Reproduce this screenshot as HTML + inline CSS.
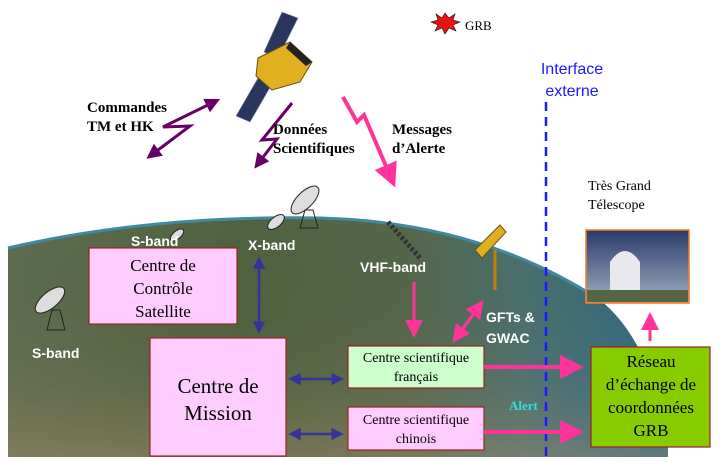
<!DOCTYPE html>
<html><head><meta charset="utf-8"><style>
html,body{margin:0;padding:0;background:#fff;width:720px;height:463px;overflow:hidden}
svg{display:block}
.s{font-family:"Liberation Serif",serif}
.a{font-family:"Liberation Sans",sans-serif}
</style></head><body>
<svg width="720" height="463" viewBox="0 0 720 463" xmlns="http://www.w3.org/2000/svg">
<defs>
<linearGradient id="earth" x1="0" y1="0" x2="1" y2="0">
<stop offset="0" stop-color="#5f6e50"/><stop offset="0.35" stop-color="#50633f"/>
<stop offset="0.6" stop-color="#56684a"/><stop offset="0.78" stop-color="#4a7270"/>
<stop offset="1" stop-color="#2a6a88"/></linearGradient>
<linearGradient id="earthv" x1="0" y1="0" x2="0" y2="1">
<stop offset="0" stop-color="#000" stop-opacity="0"/><stop offset="0.7" stop-color="#a08060" stop-opacity="0.12"/>
<stop offset="1" stop-color="#b09070" stop-opacity="0.4"/></linearGradient>
<linearGradient id="sky" x1="0" y1="0" x2="0" y2="1"><stop offset="0" stop-color="#2a3a6a"/><stop offset="1" stop-color="#a0b0c0"/></linearGradient>
<marker id="pk" markerWidth="6" markerHeight="6" refX="4" refY="3" orient="auto" markerUnits="strokeWidth"><path d="M0,0L6,3L0,6z" fill="#ff3399"/></marker>
<marker id="bl" markerWidth="5" markerHeight="5" refX="3.5" refY="2.5" orient="auto-start-reverse" markerUnits="strokeWidth"><path d="M0,0L5,2.5L0,5z" fill="#333399"/></marker>
<marker id="pu" markerWidth="5" markerHeight="5" refX="3.5" refY="2.5" orient="auto-start-reverse" markerUnits="strokeWidth"><path d="M0,0L5,2.5L0,5z" fill="#660066"/></marker>
</defs>
<!-- earth -->
<path d="M8,248 Q150,215 320,218 Q480,222 600,300 Q650,340 668,440 L668,457 L8,457 Z" fill="url(#earth)"/>
<path d="M8,248 Q150,215 320,218 Q480,222 600,300 Q650,340 668,440 L668,457 L8,457 Z" fill="url(#earthv)"/>
<path d="M8,248 Q150,215 320,218 Q480,222 600,300" fill="none" stroke="#3f8aa0" stroke-width="3"/>
<!-- satellite -->
<path d="M282,12 L298,18 L278,58 L264,52Z" fill="#2a3560" stroke="#8898b0" stroke-width="0.6"/>
<path d="M258,78 L272,84 L250,122 L236,116Z" fill="#2a3560" stroke="#8898b0" stroke-width="0.6"/>
<path d="M258,58 L290,42 L312,62 L300,82 L272,90 L256,76Z" fill="#e0b020" stroke="#6a4a10"/>
<path d="M290,42 L312,62 L306,66 L286,48Z" fill="#222"/>
<!-- GRB star -->
<polygon points="445,13 449,18 455,14 453,20 460,22 453,25 456,31 449,28 445,34 442,28 435,31 438,25 431,22 438,20 436,14 442,18" fill="#ee1111" stroke="#111" stroke-width="0.6"/>
<text x="465" y="30" class="s" font-size="13">GRB</text>
<!-- lightning arrows -->
<polyline points="216,101 163,127 190,126 150,156" fill="none" stroke="#660066" stroke-width="3" marker-end="url(#pu)" marker-start="url(#pu)"/>
<polyline points="292,103 262,140 277,139 257,165" fill="none" stroke="#660066" stroke-width="3" marker-end="url(#pu)"/>
<polyline points="343,97 357,122 364,115 392,180" fill="none" stroke="#ff3399" stroke-width="4" marker-end="url(#pk)"/>
<text x="87" y="112" class="s" font-size="15" font-weight="bold">Commandes</text>
<text x="87" y="131" class="s" font-size="15" font-weight="bold">TM et HK</text>
<text x="273" y="134" class="s" font-size="15" font-weight="bold">Données</text>
<text x="273" y="153" class="s" font-size="15" font-weight="bold">Scientifiques</text>
<text x="392" y="134" class="s" font-size="15" font-weight="bold">Messages</text>
<text x="392" y="153" class="s" font-size="15" font-weight="bold">d’Alerte</text>
<!-- interface -->
<text x="572" y="74" class="a" font-size="16" fill="#1a1aff" text-anchor="middle">Interface</text>
<text x="572" y="96" class="a" font-size="16" fill="#1a1aff" text-anchor="middle">externe</text>
<line x1="546" y1="102" x2="546" y2="457" stroke="#1a1aff" stroke-width="2.5" stroke-dasharray="9,6"/>
<text x="588" y="190" class="s" font-size="14">Très Grand</text>
<text x="588" y="209" class="s" font-size="14">Télescope</text>
<rect x="586" y="230" width="103" height="73" fill="url(#sky)" stroke="#ff7722" stroke-width="1.5"/>
<path d="M610,300 L610,262 Q625,240 640,262 L640,300Z" fill="#e8e8ee"/>
<rect x="587" y="290" width="101" height="12" fill="#556644"/>
<!-- dishes -->
<g fill="#ddd" stroke="#222" stroke-width="1">
<ellipse cx="50" cy="300" rx="18" ry="8" transform="rotate(-40 50 300)"/>
<path d="M52,310 L47,330 L65,330 L60,310Z" fill="none"/>
<ellipse cx="305" cy="200" rx="18" ry="8" transform="rotate(-45 305 200)"/>
<path d="M305,210 L300,228 L318,228 L313,210Z" fill="none"/>
<ellipse cx="276" cy="222" rx="10" ry="5" transform="rotate(-40 276 222)"/>
<ellipse cx="177" cy="235" rx="8" ry="4" transform="rotate(-40 177 235)"/>
</g>
<path d="M388,222 L420,258" stroke="#333" stroke-width="5" stroke-dasharray="3,2"/>
<!-- telescope -->
<path d="M475,250 L500,225 L506,232 L482,258Z" fill="#e0b020" stroke="#705010"/>
<line x1="495" y1="250" x2="495" y2="290" stroke="#c08010" stroke-width="3"/>
<g class="a" font-size="14" font-weight="bold" fill="#fff">
<text x="131" y="246">S-band</text>
<text x="248" y="250">X-band</text>
<text x="360" y="272">VHF-band</text>
<text x="32" y="358">S-band</text>
<text x="486" y="322">GFTs &amp;</text>
<text x="486" y="343">GWAC</text>
</g>
<text x="509" y="410" class="s" font-size="13" font-weight="bold" fill="#33dddd">Alert</text>
<!-- boxes -->
<rect x="89" y="248" width="148" height="76" fill="#ffccff" stroke="#992222" stroke-width="1.2"/>
<g class="s" font-size="17" text-anchor="middle"><text x="163" y="271">Centre de</text><text x="163" y="294">Contrôle</text><text x="163" y="317">Satellite</text></g>
<rect x="150" y="338" width="136" height="118" fill="#ffccff" stroke="#992222" stroke-width="1.2"/>
<g class="s" font-size="21" text-anchor="middle"><text x="218" y="393">Centre de</text><text x="218" y="420">Mission</text></g>
<rect x="348" y="346" width="136" height="42" fill="#ccffcc" stroke="#992222" stroke-width="1.2"/>
<g class="s" font-size="14" text-anchor="middle"><text x="416" y="362">Centre scientifique</text><text x="416" y="381">français</text></g>
<rect x="348" y="407" width="136" height="43" fill="#ffccff" stroke="#992222" stroke-width="1.2"/>
<g class="s" font-size="14" text-anchor="middle"><text x="416" y="424">Centre scientifique</text><text x="416" y="443">chinois</text></g>
<rect x="591" y="347" width="119" height="100" fill="#88cc00" stroke="#992222" stroke-width="1.2"/>
<g class="s" font-size="17" text-anchor="middle"><text x="651" y="367">Réseau</text><text x="651" y="390">d’échange de</text><text x="651" y="413">coordonnées</text><text x="651" y="436">GRB</text></g>
<!-- connectors -->
<line x1="259" y1="260" x2="259" y2="330" stroke="#333399" stroke-width="2.5" marker-start="url(#bl)" marker-end="url(#bl)"/>
<line x1="292" y1="379" x2="340" y2="379" stroke="#333399" stroke-width="2.5" marker-start="url(#bl)" marker-end="url(#bl)"/>
<line x1="292" y1="434" x2="340" y2="434" stroke="#333399" stroke-width="2.5" marker-start="url(#bl)" marker-end="url(#bl)"/>
<line x1="414" y1="282" x2="414" y2="332" stroke="#ff3399" stroke-width="3" marker-end="url(#pk)"/>
<line x1="456" y1="338" x2="480" y2="305" stroke="#ff3399" stroke-width="3" marker-end="url(#pk)"/>
<line x1="480" y1="305" x2="456" y2="338" stroke="#ff3399" stroke-width="3" marker-end="url(#pk)"/>
<line x1="484" y1="367" x2="576" y2="367" stroke="#ff3399" stroke-width="4" marker-end="url(#pk)"/>
<line x1="484" y1="432" x2="576" y2="432" stroke="#ff3399" stroke-width="4" marker-end="url(#pk)"/>
<line x1="650" y1="341" x2="650" y2="318" stroke="#ff3399" stroke-width="3" marker-end="url(#pk)"/>
</svg>
</body></html>
